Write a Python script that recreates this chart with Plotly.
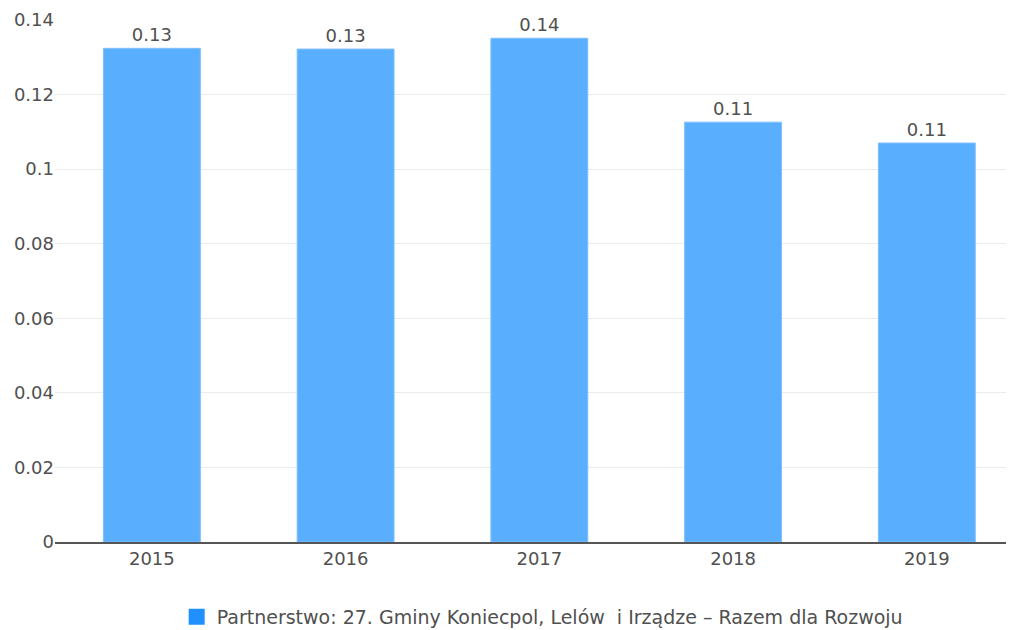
import plotly.graph_objects as go

years = ["2015", "2016", "2017", "2018", "2019"]
values = [0.1324, 0.1322, 0.1351, 0.1126, 0.1070]
series_name = "Partnerstwo: 27. Gminy Koniecpol, Lelów  i Irządze – Razem dla Rozwoju"

FONT = "DejaVu Sans"
GREY = "#505050"

fig = go.Figure()
fig.add_trace(go.Bar(
    x=years, y=values,
    marker=dict(color="#5AAEFE", line=dict(color="#7DBFFE", width=1)),
    texttemplate="%{y:.2f}", textposition="outside",
    textfont=dict(color=GREY, size=18, family=FONT),
    cliponaxis=False, showlegend=False, width=0.5,
))
fig.add_trace(go.Scatter(
    x=[years[0]], y=[None], name=series_name, mode="markers",
    marker=dict(color="#1E90FF", symbol="square", size=18), showlegend=True,
))

# page body has an 8px margin, so the figure is sized to fit the 1014x630 window
fig.update_layout(
    width=1006, height=622,
    margin=dict(l=47, r=0, t=12, b=88, autoexpand=False),
    paper_bgcolor="white", plot_bgcolor="white",
    font=dict(family=FONT, size=18, color=GREY),
    barmode="overlay",
    legend=dict(orientation="h", x=0.508, xanchor="center", y=-0.107, yanchor="top",
                font=dict(size=19, color=GREY, family=FONT)),
    xaxis=dict(showgrid=False, showline=True, linecolor="#555555", linewidth=1.5,
               range=[-0.5, 4.45],
               ticks="", tickfont=dict(size=18, color=GREY, family=FONT), automargin=False),
    yaxis=dict(range=[0, 0.14], dtick=0.02, showgrid=True, gridcolor="#EBEBEB",
               zeroline=False, ticks="", automargin=False,
               tickfont=dict(size=18, color=GREY, family=FONT)),
)

fig.write_html("out.html")
